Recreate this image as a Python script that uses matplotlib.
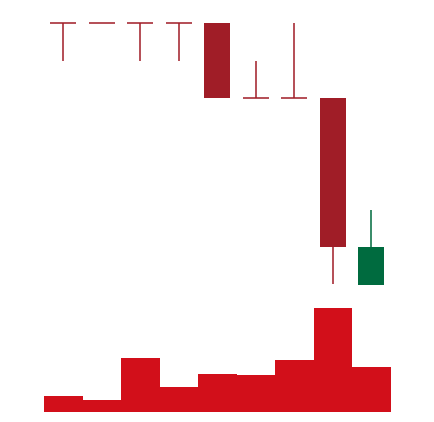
import matplotlib
matplotlib.use("Agg")
import matplotlib.pyplot as plt
import numpy as np

# daily OHLC + volume
days = list(range(9))
opens = [10.0, 10.0, 10.0, 10.0, 10.0, 9.0, 9.0, 9.0, 6.5]
highs = [10.0, 10.0, 10.0, 10.0, 10.0, 9.5, 10.0, 9.0, 7.5]
lows = [9.5, 10.0, 9.5, 9.5, 9.0, 9.0, 9.0, 6.5, 6.5]
closes = [10.0, 10.0, 10.0, 10.0, 9.0, 9.0, 9.0, 7.0, 7.0]
volumes = [157, 117, 537, 247, 377, 363, 517, 1037, 447]

down_color = "#a01d27"
up_color = "#006b3f"
vol_color = "#d20f1a"

fig = plt.figure(figsize=(4.34, 4.22), dpi=100)
W, H = 434, 422

# price panel
ax = fig.add_axes([44 / W, 1 - 284.5 / H, 346.5 / W, (284.5 - 23.3) / H])
body_w = 0.68
for i in days:
    o, h, l, c = opens[i], highs[i], lows[i], closes[i]
    col = up_color if c > o else down_color
    top, bot = max(o, c), min(o, c)
    if top > bot:
        ax.bar(i, top - bot, bottom=bot, width=body_w, color=col, linewidth=0)
    else:
        ax.hlines(o, i - body_w / 2, i + body_w / 2, color=col, linewidth=1.1, clip_on=False)
    if h > top:
        ax.vlines(i, top, h, color=col, linewidth=1.1, clip_on=False)
    if l < bot:
        ax.vlines(i, l, bot, color=col, linewidth=1.1, clip_on=False)
ax.set_xlim(-0.5, 8.5)
ax.set_ylim(6.5, 10.0)
ax.axis("off")

# volume panel
axv = fig.add_axes([44 / W, 1 - 411.7 / H, 346.5 / W, (411.7 - 308) / H])
axv.bar(days, volumes, width=1.0, color=vol_color, linewidth=0)
axv.set_xlim(-0.5, 8.5)
axv.set_ylim(0, 1037)
axv.axis("off")

fig.savefig("out.png", dpi=100)
